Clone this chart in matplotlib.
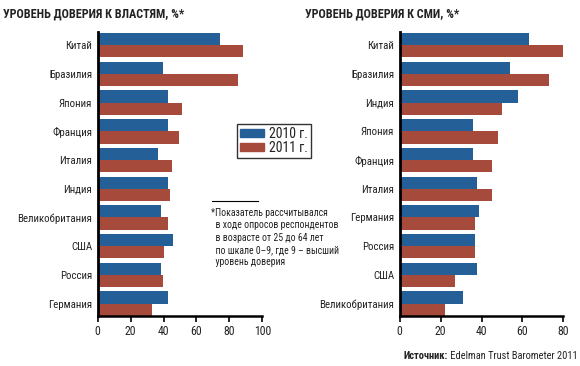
import matplotlib
matplotlib.use("Agg")
import matplotlib.pyplot as plt
import numpy as np
from matplotlib.patches import Patch

## 字体：窄体
plt.rcParams['font.family'] = ['Roboto Condensed', 'DejaVu Sans']

## 数据
gov_countries = ["Китай", "Бразилия", "Япония", "Франция", "Италия", "Индия",
                 "Великобритания", "США", "Россия", "Германия"]
gov_2010 = [74, 39.5, 42.5, 43, 36.5, 43, 38.5, 46, 38.5, 43]
gov_2011 = [88, 85, 51, 49.5, 45, 44, 43, 40, 39.5, 33]

media_countries = ["Китай", "Бразилия", "Индия", "Япония", "Франция", "Италия",
                   "Германия", "Россия", "США", "Великобритания"]
media_2010 = [63, 54, 58, 36, 36, 38, 39, 37, 38, 31]
media_2011 = [80, 73, 50, 48, 45, 45, 37, 37, 27, 22]

years = ["2010 г.", "2011 г."]

blue = "#245f97"
red = "#a64a3c"
txt = "#222222"

fig = plt.figure(figsize=(5.8, 3.66), dpi=100)

def draw(ax, cats, v1, v2, xmax, ticks):
    y = np.arange(len(cats))
    h = 0.425
    ax.barh(y - h/2, v1, height=h, color=blue, linewidth=0)
    ax.barh(y + h/2, v2, height=h, color=red, linewidth=0)
    ax.set_ylim(9.42, -0.47)
    ax.set_xlim(0, xmax)
    ax.set_yticks(y)
    ax.set_yticklabels(cats, fontsize=7.8, color=txt)
    ax.set_xticks(ticks)
    ax.set_xticklabels([str(t) for t in ticks], fontsize=8.5, color=txt)
    ax.tick_params(axis='y', length=0, pad=4)
    ax.tick_params(axis='x', length=4, width=1.2, direction='out', pad=3, color='black')
    for s in ["top", "right"]:
        ax.spines[s].set_visible(False)
    ax.spines["left"].set_linewidth(2)
    ax.spines["bottom"].set_linewidth(1.8)

ax1 = fig.add_axes([97.7/580, 1-315.7/366, 164.6/580, 284/366])
draw(ax1, gov_countries, gov_2010, gov_2011, 100, [0, 20, 40, 60, 80, 100])

ax2 = fig.add_axes([399.7/580, 1-315.7/366, 163.6/580, 284/366])
draw(ax2, media_countries, media_2010, media_2011, 80, [0, 20, 40, 60, 80])

## 标题
fig.text(3/580, 1-14/366, "УРОВЕНЬ ДОВЕРИЯ К ВЛАСТЯМ, %*", fontsize=8.7, fontweight='bold',
         color=txt, va='center', ha='left')
fig.text(305/580, 1-14/366, "УРОВЕНЬ ДОВЕРИЯ К СМИ, %*", fontsize=8.7, fontweight='bold',
         color=txt, va='center', ha='left')

## 图例
handles = [Patch(color=blue), Patch(color=red)]
leg = fig.legend(handles, years, loc='center', bbox_to_anchor=(274/580, 1-141/366),
                 fontsize=10, frameon=True, fancybox=False, edgecolor='black',
                 handlelength=1.7, handleheight=0.5, handletextpad=0.4,
                 labelspacing=0.0, borderpad=0.25)
leg.get_frame().set_linewidth(1.0)
for t in leg.get_texts():
    t.set_color(txt)

## 注释
fig.add_artist(plt.Line2D([212/580, 258/580], [1-201/366, 1-201/366], color='black', lw=0.8))
note = ["*Показатель рассчитывался",
        "  в ходе опросов респондентов",
        "  в возрасте от 25 до 64 лет",
        "  по шкале 0–9, где 9 – высший",
        "  уровень доверия"]
for i, line in enumerate(note):
    fig.text(211/580, 1-(213 + i*12.3)/366, line, fontsize=7, color=txt, va='center', ha='left')

## 来源
fig.text(448/580, 1-356/366, "Источник:", fontsize=7.5, fontweight='bold', color=txt,
         va='center', ha='right')
fig.text(448/580, 1-356/366, " Edelman Trust Barometer 2011", fontsize=7.5, color=txt,
         va='center', ha='left')

fig.savefig("out.png", dpi=100)
